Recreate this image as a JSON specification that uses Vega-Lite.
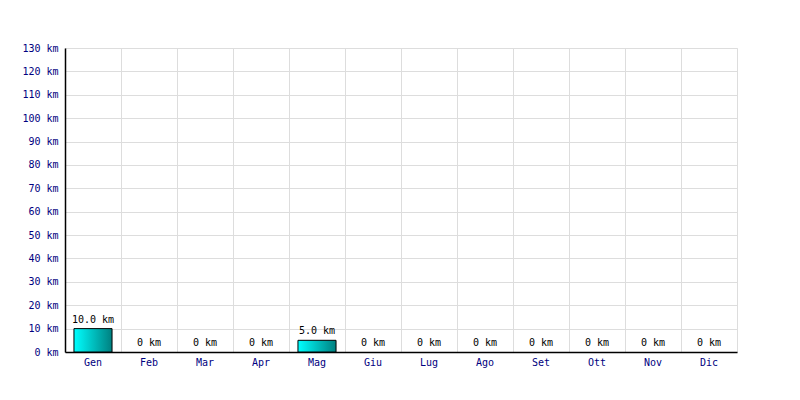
{
  "$schema": "https://vega.github.io/schema/vega-lite/v6.json",
  "width": 672,
  "height": 304,
  "autosize": "none",
  "padding": {"left": 65, "top": 48, "right": 63, "bottom": 48},
  "background": "white",
  "config": {
    "view": {"stroke": "#dddddd", "strokeWidth": 1},
    "font": "DejaVu Sans Mono"
  },
  "data": {
    "values": [
      {"mese": "Gen", "km": 10, "label": "10.0 km"},
      {"mese": "Feb", "km": 0, "label": "0 km"},
      {"mese": "Mar", "km": 0, "label": "0 km"},
      {"mese": "Apr", "km": 0, "label": "0 km"},
      {"mese": "Mag", "km": 5, "label": "5.0 km"},
      {"mese": "Giu", "km": 0, "label": "0 km"},
      {"mese": "Lug", "km": 0, "label": "0 km"},
      {"mese": "Ago", "km": 0, "label": "0 km"},
      {"mese": "Set", "km": 0, "label": "0 km"},
      {"mese": "Ott", "km": 0, "label": "0 km"},
      {"mese": "Nov", "km": 0, "label": "0 km"},
      {"mese": "Dic", "km": 0, "label": "0 km"}
    ]
  },
  "encoding": {
    "x": {
      "field": "mese", "type": "nominal",
      "sort": ["Gen","Feb","Mar","Apr","Mag","Giu","Lug","Ago","Set","Ott","Nov","Dic"],
      "scale": {"paddingInner": 0, "paddingOuter": 0},
      "axis": {
        "title": null, "labelAngle": 0, "labelColor": "#000080",
        "labelFont": "DejaVu Sans Mono", "labelFontSize": 10,
        "domainColor": "black", "domainWidth": 1.5, "ticks": false,
        "labelPadding": 5, "grid": true, "bandPosition": 0,
        "gridColor": "#dddddd", "gridWidth": 1
      }
    },
    "y": {
      "field": "km", "type": "quantitative",
      "scale": {"domain": [0, 130], "nice": false},
      "axis": {
        "title": null, "values": [0,10,20,30,40,50,60,70,80,90,100,110,120,130],
        "labelExpr": "datum.value + ' km'", "labelColor": "#000080",
        "labelFont": "DejaVu Sans Mono", "labelFontSize": 10,
        "domainColor": "black", "domainWidth": 1.5, "ticks": false,
        "labelPadding": 7, "gridColor": "#dddddd", "gridWidth": 1
      }
    }
  },
  "layer": [
    {
      "transform": [{"filter": "datum.km > 0"}],
      "mark": {
        "type": "bar", "stroke": "black", "strokeWidth": 1,
        "width": {"band": 0.68},
        "fill": {
          "gradient": "linear", "x1": 0, "y1": 0, "x2": 1, "y2": 0,
          "stops": [{"offset": 0, "color": "#00ffff"}, {"offset": 1, "color": "#008080"}]
        }
      }
    },
    {
      "mark": {"type": "text", "baseline": "bottom", "dy": -4, "fontSize": 10, "font": "DejaVu Sans Mono", "color": "black"},
      "encoding": {"text": {"field": "label"}}
    }
  ]
}
